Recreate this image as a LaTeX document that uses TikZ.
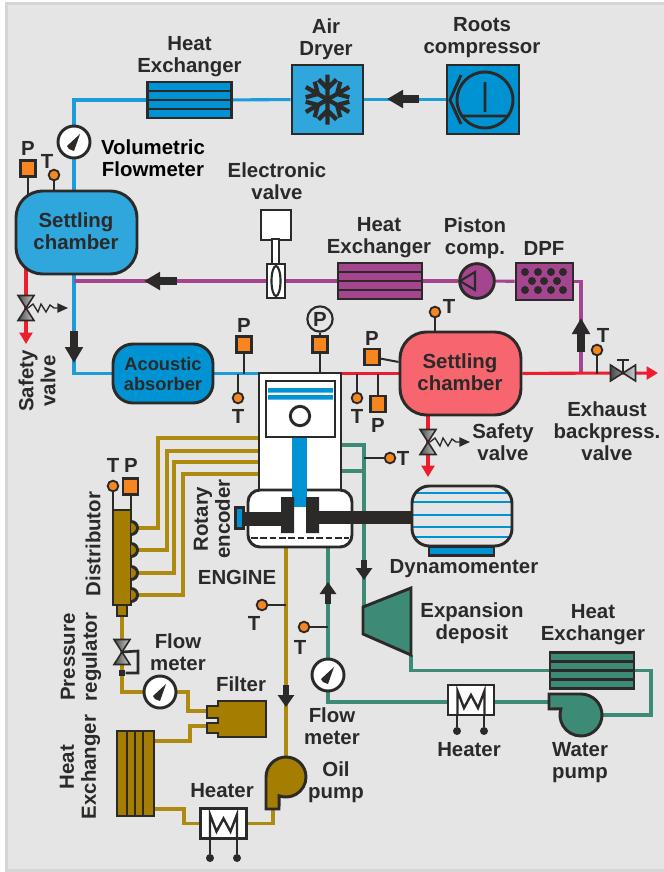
\documentclass[tikz,border=0pt]{standalone}
\usepackage{fontspec}
\setmainfont{Liberation Sans}
\usetikzlibrary{positioning,arrows.meta,backgrounds}
\definecolor{ink}{HTML}{2B2A29}
\definecolor{panel}{HTML}{E5E5E5}
\definecolor{panelrim}{HTML}{D6D6D6}
\definecolor{airblue}{HTML}{0093D3}
\definecolor{airsoft}{HTML}{2FA6DC}
\definecolor{airpipe}{HTML}{1C9DD9}
\definecolor{sensor}{HTML}{F7861E}
\definecolor{oilbrown}{HTML}{A57D00}
\definecolor{oilpipe}{HTML}{AE8A10}
\definecolor{waterteal}{HTML}{3D8A77}
\definecolor{gasviolet}{HTML}{A5458F}
\definecolor{hotred}{HTML}{ED1C2E}
\definecolor{salmon}{HTML}{F7656F}

\begin{document}
\begin{tikzpicture}[
  x=.75pt, y=-.75pt,
  sz/.style 2 args={minimum width=#1*.75pt, minimum height=#2*.75pt, inner sep=0pt},
  lb/.style={font=\fontsize{15.3}{16.5}\selectfont\bfseries, text=ink, align=center, inner sep=0pt},
  comp/.style={draw=ink, line width=2.2pt, rectangle},
  psens/.style={comp, line width=1.6pt, fill=sensor, sz={15}{16}},
  tsens/.style={draw=ink, line width=1.4pt, fill=sensor, circle, minimum size=8pt, inner sep=0pt},
  stem/.style={draw=ink, line width=1.5pt},
  pipe/.style={line width=2.3pt},
  airp/.style={pipe, draw=airpipe},
  gasp/.style={pipe, draw=gasviolet},
  redp/.style={pipe, draw=hotred},
  oilp/.style={pipe, draw=oilpipe},
  watp/.style={pipe, draw=waterteal},
  bigarrow/.style={draw=ink, line width=6.5pt, -{Triangle[width=13pt,length=12pt]}},
  smallarrow/.style={draw=ink, line width=5pt, -{Triangle[width=12pt,length=9pt]}},
  redtip/.style={-{Triangle[width=9.5pt,length=8.5pt]}},
  fmeter/.style={draw=ink, line width=2.2pt, fill=white, circle, minimum size=24pt, inner sep=0pt,
    path picture={\fill[ink, shift={(path picture bounding box.center)}]
      (6,-8) -- (-7,4) -- (-5,7) -- (0,9) -- cycle;}},
  hxh/.style={comp, fill=#1, sz={84}{36},
    path picture={\foreach \yy in {-9,0,9}
      \draw[ink, line width=2pt] (path picture bounding box.west) ++(0,\yy) -- ++(90,0);}},
  heatbox/.style={comp, fill=white, sz={46}{30},
    path picture={\draw[ink, line width=1.8pt, shift={(path picture bounding box.center)}]
      (-13.5,18) -- (-13.5,-9) -- (-7,8) -- (0,-5) -- (7,8) -- (13.5,-9) -- (13.5,18);}},
  chamber/.style={comp, rounded corners=20pt, fill=#1, sz={121}{83}},
  pics/valve/.style={code={
    \draw[ink, line width=1.2pt, left color=black!70, right color=black!20]
      (-8,-12.5) -- (8,-12.5) -- (-8,12.5) -- (8,12.5) -- cycle;}},
  pics/relief/.style={code={
    \draw[ink, line width=1pt, -{Triangle[width=7pt,length=8pt]}]
      (2,0) -- (7,-4) -- (12,4) -- (15,-4) -- (20,4) -- (24,-3) -- (28,0) -- (42,0);
    \pic {valve};}}
]
  \useasboundingbox (0,0) rectangle (664,872);

  \begin{scope}[on background layer]
    \fill[white] (0,0) rectangle (664,872);
    \draw[panelrim, fill=panel, line width=2.2pt] (6.5,3.5) rectangle (680,870.5);
  \end{scope}

  % air side
  \node[comp, fill=airblue, sz={72}{69}] (roots) at (483,99.5) {};
  \draw[ink, line width=2.2pt] (485,100) circle (28);
  \draw[ink, line width=2.2pt] (485,82) -- (485,112) (462,116) -- (508,116) (461,75) -- (450,100) -- (461,124);
  \node[lb] (rootsl) at (482,38) {Roots\\compressor};

  \node[comp, fill=airsoft, sz={71}{69}] (dryer) at (327.5,99.5) {};
  \foreach \ang in {30,90,...,330}
    \draw[ink, line width=3.2pt, shift={(dryer.center)}, rotate=\ang]
      (0,0) -- (25,0) (11,0) -- (20,-9) (11,0) -- (20,9);
  \node[lb] (dryerl) at (326,39) {Air\\Dryer};

  \node[hxh=airblue] (hxa) at (189.5,100) {};
  \node[lb] (hxal) at (189.5,57) {Heat\\Exchanger};
  \node[fmeter] (fma) at (74,142) {};
  \node[lb, text=black] (fmal) at (153,158) {Volumetric\\Flowmeter};

  \node[chamber=airsoft] (sca) at (76.5,232.5) {};
  \node[lb] (scal) at (76,231) {Settling\\chamber};
  \node[psens] (pa) at (28,168.5) {};
  \node[lb] (pal) at (28,148) {P};
  \node[tsens] (ta) at (54,175) {};
  \node[lb] (tal) at (47,161) {T};

  \coordinate (va) at (26,308);
  \coordinate (tipa) at (26,344);
  \pic at (va) {relief};
  \node[lb, rotate=90] (val) at (37,381) {Safety\\valve};

  \node[comp, rounded corners=15pt, fill=airblue, sz={100}{59}] (abs) at (163,373.5) {};
  \node[lb, font=\fontsize{13.7}{15}\selectfont\bfseries] (absl) at (163,374) {Acoustic\\absorber};

  % exhaust side
  \node[comp, fill=white, sz={30}{30}] (ev) at (276,225) {};
  \node[comp, fill=white, sz={7}{26}] (evs) at (275.5,252) {};
  \node[comp, line width=1.6pt, fill=white, sz={18}{34}] (evb) at (276,281) {};
  \draw[ink, line width=1.6pt] (276,281) ellipse (4.5 and 15);
  \node[lb] (evl) at (277,181) {Electronic\\valve};

  \node[hxh=gasviolet] (hxb) at (380,281) {};
  \node[lb] (hxbl) at (379,238) {Heat\\Exchanger};
  \node[comp, fill=gasviolet, circle, minimum size=26pt, inner sep=0pt] (pist) at (477,281) {};
  \draw[ink, line width=1.6pt] (460,281) -- (475,272) -- (475,290) -- cycle;
  \node[lb] (pistl) at (475,238) {Piston\\comp.};
  \node[comp, fill=gasviolet, sz={57}{37}] (dpf) at (544.5,281.5) {};
  \foreach \xx in {525,538,551,563} \foreach \yy in {272,290}
    \fill[ink] (\xx,\yy) circle (4);
  \foreach \xx in {532,544,557}
    \fill[ink] (\xx,281) circle (4);
  \node[lb] (dpfl) at (544,248) {DPF};

  \node[chamber=salmon] (scb) at (460.5,373.5) {};
  \node[lb] (scbl) at (460,372) {Settling\\chamber};
  \node[tsens] (tb) at (435,312) {};
  \node[lb] (tbl) at (449,306) {T};
  \node[psens] (pb) at (372,357) {};
  \node[lb] (pbl) at (372,338) {P};
  \node[tsens] (tc) at (357,398) {};
  \node[lb] (tcl) at (357,416) {T};
  \node[psens] (pc) at (378,404) {};
  \node[lb] (pcl) at (378,425) {P};

  \coordinate (vb) at (428,442);
  \coordinate (tipb) at (428,477);
  \pic at (vb) {relief};
  \node[lb] (vbl) at (503,442) {Safety\\valve};

  \coordinate (vc) at (623,373);
  \coordinate (tipc) at (658,373);
  \draw[ink, line width=1.6pt] (vc) -- (623,360) (617,360) -- (629,360);
  \pic[rotate=90] at (vc) {valve};
  \node[tsens] (td) at (597,350) {};
  \node[lb] (tdl) at (603,335) {T};
  \node[lb] (vcl) at (607,431) {Exhaust\\backpress.\\valve};

  % engine
  \node[comp, fill=white, sz={82}{118}] (eng) at (300,432) {};
  \node[comp, rounded corners=9pt, fill=white, sz={104}{57}] (crank) at (300,518.5) {};
  \fill[airblue] (292,437) rectangle (307,507);
  \node[comp, fill=white, sz={69}{56}] (pston) at (300.5,409) {};
  \fill[airblue] (268,388) rectangle (333,392.5) (268,395) rectangle (333,399.5);
  \node[draw=ink, line width=2.2pt, fill=white, circle, minimum size=14.5pt, inner sep=0pt] (pin) at (300,416) {};
  \fill[ink] (281,497) rectangle (294,533) (306,497) rectangle (319,533);
  \fill[ink] (244,512) rectangle (281,526);
  \node[draw=ink, line width=1.6pt, fill=airblue, sz={8}{21}] (enc) at (239.5,518) {};
  \draw[ink, line width=1.3pt, dashed, dash pattern=on 5pt off 2pt] (251,538) -- (349,538);
  \node[lb, rotate=90] (encl) at (212,519) {Rotary\\encoder};
  \node[lb] (engl) at (237,577) {ENGINE};
  \node[psens] (pe) at (244,344.5) {};
  \node[lb] (pel) at (244,325) {P};
  \node[tsens] (te) at (238,398) {};
  \node[lb] (tel) at (238,416) {T};
  \node[psens] (pf) at (320,344.5) {};
  \node[draw=ink, line width=1.6pt, circle, minimum size=19pt, inner sep=0pt, lb] (pfl) at (320,319) {P};

  \node[comp, rounded corners=13pt, fill=panel, sz={100}{60},
    path picture={\foreach \yy in {-23,-14,-1,11,21}
      \draw[airblue, line width=2pt] (path picture bounding box.west) ++(0,\yy) -- ++(110,0);}] (dyno) at (462,516) {};
  \node[comp, line width=1.6pt, fill=airblue, sz={65}{9}] (dynob) at (461.5,551) {};
  \fill[ink] (319,511) rectangle (413,524);
  \node[lb] (dynol) at (464,569) {Dynamomenter};

  % water circuit
  \draw[comp, fill=waterteal] (363,607) -- (411,588) -- (411,655) -- (363,634) -- cycle;
  \coordinate (exptop) at (364,607);
  \coordinate (expout) at (411,655);
  \node[lb] (expl) at (472,623) {Expansion\\deposit};
  \node[hxh=waterteal] (hxc) at (592,670.5) {};
  \node[lb] (hxcl) at (593,625) {Heat\\Exchanger};
  \draw[comp, fill=waterteal] (581,694) arc[start angle=270, end angle=557, radius=21]
    -- (549,709) -- (549,694) -- cycle;
  \coordinate (wpump) at (581,715);
  \coordinate (wpout) at (549,702);
  \node[lb] (wpl) at (580,763) {Water\\pump};
  \node[heatbox] (heatw) at (471,700) {};
  \node[circle, fill=ink, minimum size=6pt, inner sep=0pt] (hwa) at (457,731) {};
  \node[circle, fill=ink, minimum size=6pt, inner sep=0pt] (hwb) at (484,731) {};
  \node[lb] (heatwl) at (469,750) {Heater};
  \node[fmeter] (fmw) at (328,675) {};
  \node[lb] (fmwl) at (332,726) {Flow\\meter};
  \node[tsens] (tw) at (304,627) {};
  \node[lb] (twl) at (300,647) {T};
  \node[tsens] (tx) at (390,458) {};
  \node[lb] (txl) at (403,458) {T};

  % oil circuit
  \node[comp, fill=oilbrown, sz={18}{95}] (dist) at (122,557.5) {};
  \node[comp, fill=oilbrown, sz={10}{11}] (distb) at (122,610.5) {};
  \foreach \yy in {528,550,573,595}
    \draw[comp, fill=oilbrown] (131,\yy-6.5) arc[start angle=-90, end angle=90, radius=6.5];
  \node[lb, rotate=90] (distl) at (93,544) {Distributor};
  \node[tsens] (tg) at (113,486) {};
  \node[lb] (tgl) at (113,465) {T};
  \node[psens] (pg) at (130.5,486.5) {};
  \node[lb] (pgl) at (131,465) {P};

  \coordinate (vr) at (122,652);
  \pic at (vr) {valve};
  \node[fill=ink, minimum size=5pt, inner sep=0pt] (reg) at (122,673) {};
  \node[lb, rotate=90] (vrl) at (81,657) {Pressure\\regulator};
  \node[fmeter] (fmo) at (160,692) {};
  \node[lb] (fmol) at (178,652) {Flow\\meter};

  \draw[comp, fill=oilbrown] (218,701) -- (266,701) -- (266,737) -- (218,737) -- (218,733)
    -- (207,733) -- (207,723) -- (218,723) -- (218,718) -- (207,718) -- (207,706) -- (218,706) -- cycle;
  \coordinate (fila) at (207,711);
  \coordinate (filb) at (207,726);
  \node[lb] (fill) at (241,684) {Filter};

  \node[comp, fill=oilbrown, sz={37}{85},
    path picture={\foreach \xx in {-8.5,-.5,7.5}
      \draw[ink, line width=2pt] (path picture bounding box.north) ++(\xx,0) -- ++(0,90);}] (hxd) at (135.5,773.5) {};
  \node[lb, rotate=90] (hxdl) at (80,767) {Heat\\Exchanger};
  \node[heatbox] (heato) at (223.5,823.5) {};
  \node[circle, fill=ink, minimum size=6pt, inner sep=0pt] (hoa) at (210,858) {};
  \node[circle, fill=ink, minimum size=6pt, inner sep=0pt] (hob) at (237,858) {};
  \node[lb] (heatol) at (222,791) {Heater};
  \draw[comp, fill=oilbrown] (266,777) arc[start angle=180, end angle=470, radius=20]
    -- (279,809) -- (266,809) -- cycle;
  \coordinate (opump) at (286,777);
  \coordinate (opout) at (273,809);
  \node[lb] (opl) at (336,782) {Oil\\pump};
  \node[tsens] (to) at (262,605) {};
  \node[lb] (tol) at (254,623) {T};

  % block arrows on the lines
  \coordinate (ara) at (419,99);   \coordinate (arb) at (387,99);
  \coordinate (arc) at (177,281);  \coordinate (ard) at (144,281);
  \coordinate (are) at (74,331);   \coordinate (arf) at (74,363);
  \coordinate (arg) at (581,352);  \coordinate (arh) at (581,318);
  \coordinate (ari) at (364,560);  \coordinate (arj) at (364,580);
  \coordinate (ark) at (328,604);  \coordinate (arl) at (328,582);
  \coordinate (arm) at (286,685);  \coordinate (arn) at (286,707);
  \draw[bigarrow] (ara) -- (arb);
  \draw[bigarrow] (arc) -- (ard);
  \draw[bigarrow] (are) -- (arf);
  \draw[bigarrow] (arg) -- (arh);
  \draw[smallarrow] (ari) -- (arj);
  \draw[smallarrow] (ark) -- (arl);
  \draw[smallarrow] (arm) -- (arn);

  \begin{scope}[on background layer]
    \draw[airp] (roots) -- (dryer);
    \draw[airp] (dryer) -- (hxa);
    \draw[airp] (hxa.west) -| (fma);
    \draw[airp] (fma) -- (sca.center -| fma);
    \draw[airp] (sca.center -| fma) |- (abs);
    \draw[airp] (abs) -- (eng.west |- abs);

    \draw[gasp] (dpf.east) -| (scb.center -| arg);
    \draw[gasp] (dpf) -- (pist);
    \draw[gasp] (pist) -- (hxb);
    \draw[gasp] (hxb) -- (evb);
    \draw[gasp] (evb) -- (evb -| fma);

    \draw[redp] (eng.east |- scb) -- (scb);
    \draw[redp, redtip] (scb) -- (tipc);
    \draw[redp, redtip] (scb.center -| vb) -- (tipb);
    \draw[redp, redtip] (sca.center -| va) -- (tipa);

    \draw[watp] (eng.east |- 0,445) -| (exptop);
    \draw[watp] (eng.east |- 0,471) -- (exptop |- 0,471);
    \draw[watp] (expout) |- (hxc);
    \draw[watp] (hxc) -| (651,715) -- (wpump);
    \draw[watp] (wpout) -- (heatw.east |- wpout);
    \draw[watp] (heatw.west |- wpout) -| (fmw);
    \draw[watp] (fmw) -- (crank.south -| fmw);

    \foreach \yy/\xx/\pp in {438/158/528,451/167/550,462/174/573,474/183/595}
      \draw[oilp] (eng.west |- 0,\yy) -| (\xx,\pp) -- (135,\pp);
    \draw[oilp] (distb) |- (fmo);
    \draw[oilp] (fmo) -- (188,692) |- (fila);
    \draw[oilp] (filb) -- (190,726) |- (hxd.east |- 0,741);
    \draw[oilp] (hxd.east |- 0,809) -- (184,809) |- (heato);
    \draw[oilp] (heato) -| (opout);
    \draw[oilp] (crank.south -| opump) -- (opump);

    \draw[stem] (pa) -- (pa |- sca.center);
    \draw[stem] (ta) -- (ta |- sca.center);
    \draw[stem] (pb) -- (scb);
    \draw[stem] (tb) -- (tb |- scb.center);
    \draw[stem] (tc) -- (tc |- scb);
    \draw[stem] (pc) -- (pc |- scb);
    \draw[stem] (td) -- (td |- scb);
    \draw[stem] (pe) -- (pe |- abs);
    \draw[stem] (te) -- (te |- abs);
    \draw[stem] (pf) -- (pf |- eng.north);
    \draw[stem] (pf) -- (pfl);
    \draw[stem] (tg) -- (tg |- dist.north);
    \draw[stem] (pg) -- (pg |- dist.north);
    \draw[stem] (to) -- (to -| opump);
    \draw[stem] (tw) -- (tw -| fmw);
    \draw[stem] (tx) -- (tx -| exptop);
    \draw[stem, line width=2pt] (hwa) -- (hwa |- heatw);
    \draw[stem, line width=2pt] (hwb) -- (hwb |- heatw);
    \draw[stem, line width=2pt] (hoa) -- (hoa |- heato);
    \draw[stem, line width=2pt] (hob) -- (hob |- heato);
    \draw[stem, line width=2pt] (reg) -- (138,673) -- (138,651) -- (vr);
  \end{scope}
\end{tikzpicture}
\end{document}
